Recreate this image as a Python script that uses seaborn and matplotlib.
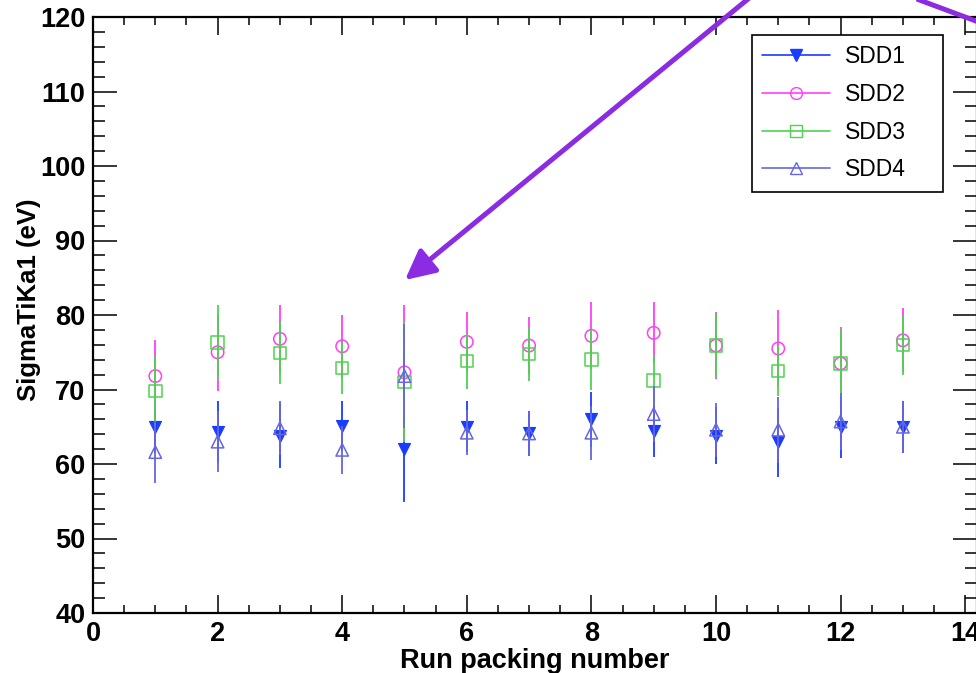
import matplotlib
matplotlib.use("Agg")
import matplotlib.pyplot as plt
from matplotlib.lines import Line2D
from matplotlib.patches import FancyArrowPatch
from matplotlib.ticker import MultipleLocator
import pandas as pd
import seaborn as sns

# Run packing numbers
runs = [1, 2, 3, 4, 5, 6, 7, 8, 9, 10, 11, 12, 13]

# Sigma of the Ti Ka1 line (eV) and its uncertainty, per detector
sdd1 = [65.0, 64.3, 63.8, 65.1, 62.0, 65.0, 64.1, 66.0, 64.4, 63.8, 62.9, 64.9, 65.0]
sdd1_err = [3.5, 4.2, 4.4, 3.3, 7.1, 3.4, 3.0, 3.7, 3.5, 3.8, 4.6, 4.1, 3.5]

sdd2 = [71.8, 75.0, 76.8, 75.8, 72.3, 76.4, 75.9, 77.2, 77.6, 75.9, 75.5, 73.5, 76.6]
sdd2_err = [4.9, 5.2, 4.6, 4.2, 9.0, 4.0, 3.8, 4.5, 4.1, 4.5, 5.2, 4.9, 4.3]

sdd3 = [69.8, 76.3, 74.9, 72.9, 71.0, 73.8, 74.8, 74.0, 71.2, 75.9, 72.5, 73.5, 76.0]
sdd3_err = [4.7, 5.0, 4.1, 3.5, 8.0, 3.7, 3.6, 4.0, 3.4, 4.3, 3.4, 4.5, 4.0]

sdd4 = [61.6, 63.0, 64.8, 61.9, 71.8, 64.2, 64.1, 64.2, 66.7, 64.6, 64.6, 65.7, 65.0]
sdd4_err = [4.2, 4.1, 3.6, 3.2, 7.0, 3.0, 3.0, 3.6, 3.8, 3.6, 4.4, 3.8, 3.5]

detectors = ["SDD1", "SDD2", "SDD3", "SDD4"]

frames = []
for name, vals, errs in zip(detectors, [sdd1, sdd2, sdd3, sdd4],
                            [sdd1_err, sdd2_err, sdd3_err, sdd4_err]):
    frames.append(pd.DataFrame({"run": runs, "sigma": vals, "err": errs,
                                "detector": name}))
df = pd.concat(frames, ignore_index=True)

# colour, marker, filled
styles = {
    "SDD1": ("#1a3cff", "v", True),
    "SDD2": ("#ff3ff5", "o", False),
    "SDD3": ("#4fd24f", "s", False),
    "SDD4": ("#6666e0", "^", False),
}

sns.set_theme(style="ticks", rc={
    "axes.edgecolor": "black", "axes.labelcolor": "black",
    "text.color": "black", "xtick.color": "black", "ytick.color": "black",
})
plt.rcParams["font.family"] = ["Liberation Sans", "DejaVu Sans"]
plt.rcParams["font.weight"] = "bold"
plt.rcParams["axes.labelweight"] = "bold"

fig = plt.figure(figsize=(9.76, 6.73), dpi=100)
ax = fig.add_axes([93 / 976, 60 / 673, 884 / 976, 596 / 673])

for i, name in enumerate(detectors):
    color, marker, filled = styles[name]
    sub = df[df["detector"] == name]
    ax.errorbar(sub["run"], sub["sigma"], yerr=sub["err"], fmt="none",
                ecolor=color, elinewidth=1.3, capsize=0, zorder=2 + 2 * i)
    if filled:
        sns.scatterplot(data=sub, x="run", y="sigma", marker=marker, s=75,
                        color=color, edgecolor=color, linewidth=0.8,
                        ax=ax, zorder=3 + 2 * i, legend=False)
    else:
        sns.scatterplot(data=sub, x="run", y="sigma", marker=marker, s=80,
                        facecolor="none", edgecolor=color, linewidth=1.1,
                        ax=ax, zorder=3 + 2 * i, legend=False)

ax.set_xlim(0, 14.19)
ax.set_ylim(40, 120)
ax.xaxis.set_major_locator(MultipleLocator(2))
ax.xaxis.set_minor_locator(MultipleLocator(0.5))
ax.yaxis.set_major_locator(MultipleLocator(10))
ax.yaxis.set_minor_locator(MultipleLocator(2))
ax.tick_params(axis="both", which="both", direction="in", top=True,
               right=True, width=1.1, labelsize=19.5)
ax.tick_params(axis="y", which="major", length=17.3, pad=5.5)
ax.tick_params(axis="y", which="minor", length=8.6)
ax.tick_params(axis="x", which="major", length=13, pad=6)
ax.tick_params(axis="x", which="minor", length=5.8)
for spine in ax.spines.values():
    spine.set_linewidth(1.6)
    spine.set_color("black")

ax.set_xlabel("Run packing number", fontsize=19.5, fontweight="bold")
ax.set_ylabel("SigmaTiKa1 (eV)", fontsize=18.5, fontweight="bold")
ax.xaxis.set_label_coords(0.5, -0.058)
ax.yaxis.label.set_va("center")
ax.yaxis.set_label_coords(-0.072, 0.525)

handles = []
for name in detectors:
    color, marker, filled = styles[name]
    handles.append(Line2D([0], [0], color=color, lw=1.2, marker=marker,
                          markersize=8.5, markeredgewidth=1.0,
                          markerfacecolor=color if filled else "none",
                          markeredgecolor=color, label=name))
leg = ax.legend(handles=handles, loc="upper left",
                bbox_to_anchor=(752 / 976, 1 - 186 / 673, 191 / 976, 151 / 673),
                bbox_transform=fig.transFigure, mode="expand",
                frameon=True, fancybox=False, edgecolor="black", framealpha=1,
                prop={"size": 16.5, "weight": "normal"}, handlelength=2.95,
                labelspacing=0.64, borderpad=0.45, handletextpad=0.65,
                borderaxespad=0)
leg.get_frame().set_linewidth(1.2)

# Purple pointer arrows drawn on top of the figure
arrow_col = "#8b2be2"
fig.add_artist(FancyArrowPatch(
    posA=(759 / 976, 1 + 10 / 673), posB=(405 / 976, 1 - 280 / 673),
    transform=fig.transFigure, arrowstyle="-|>,head_length=18,head_width=9",
    mutation_scale=1, color=arrow_col, lw=3.6, shrinkA=0, shrinkB=0,
    zorder=20))
fig.add_artist(Line2D([906 / 976, 1000 / 976], [1 + 5 / 673, 1 - 30 / 673],
                      transform=fig.transFigure, color=arrow_col, lw=3.6,
                      solid_capstyle="butt", zorder=20))

fig.savefig("out.png", dpi=100)
